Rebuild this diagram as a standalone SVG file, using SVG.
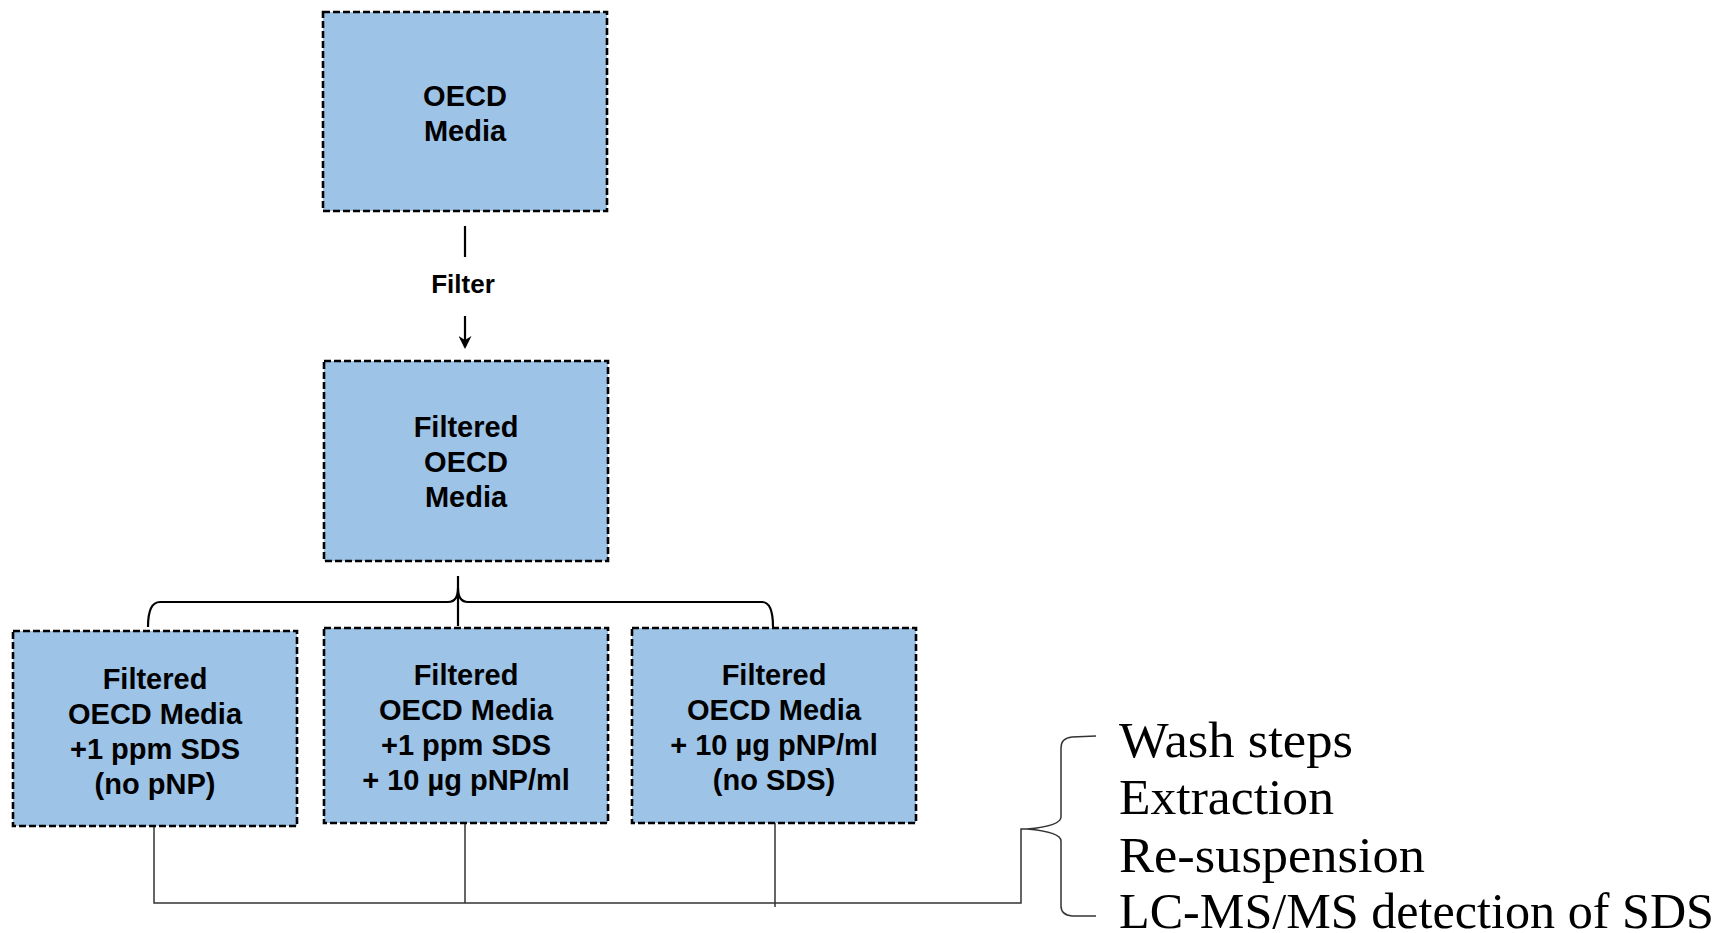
<svg xmlns="http://www.w3.org/2000/svg" width="1721" height="933" viewBox="0 0 1721 933">
<style>
.box{fill:#9DC3E6;stroke:#000;stroke-width:2.6;stroke-dasharray:7 3}
.bt{font-family:"Liberation Sans",Arial,sans-serif;font-weight:bold;font-size:29px;fill:#000;text-anchor:middle}
.lbl{font-family:"Liberation Sans",Arial,sans-serif;font-weight:bold;font-size:26px;fill:#000;text-anchor:middle}
.st{font-family:"Liberation Serif","Times New Roman",serif;font-size:50px;fill:#000}
.ln{fill:none;stroke:#000;stroke-width:2.2}
.thin{fill:none;stroke:#333;stroke-width:1.5}
</style>
<defs>
<marker id="ah" markerWidth="13" markerHeight="13" refX="11" refY="6.5" orient="auto" markerUnits="userSpaceOnUse">
<path d="M0,0 L13,6.5 L0,13 L4,6.5 Z" fill="#000"/>
</marker>
</defs>
<rect width="1721" height="933" fill="#fff"/>
<g id="connectors">
<line class="ln" x1="465" y1="226" x2="465" y2="257"/>
<line class="ln" x1="465" y1="316" x2="465" y2="347" marker-end="url(#ah)"/>
<path class="ln" stroke-width="2.6" d="M148,627 Q148,602 160,602 L448,602 Q458,602 458,588 Q458,602 468,602 L762,602 Q773,602 773,627"/>
<line class="ln" stroke-width="2.6" x1="458" y1="576" x2="458" y2="626"/>
<path class="thin" d="M154,827 L154,903 L1021,903 L1021,829 L1027,829"/>
<line class="thin" x1="465" y1="823" x2="465" y2="903"/>
<line class="thin" x1="775" y1="823" x2="775" y2="907"/>
<path class="thin" d="M1096,736 L1072,737 Q1061,738 1061,748 L1061,817 Q1061,826 1027,829 Q1061,832 1061,841 L1061,906 Q1061,915 1072,916 L1096,916"/>
</g>
<g id="filter-label">
<text class="lbl" x="463" y="293">Filter</text>
</g>
<g id="oecd-media">
<rect class="box" x="323" y="12" width="284" height="199"/>
<text class="bt" x="465" y="106">OECD</text>
<text class="bt" x="465" y="141">Media</text>
</g>
<g id="filtered-oecd-media">
<rect class="box" x="324" y="361" width="284" height="200"/>
<text class="bt" x="466" y="437">Filtered</text>
<text class="bt" x="466" y="472">OECD</text>
<text class="bt" x="466" y="507">Media</text>
</g>
<g id="sds-only">
<rect class="box" x="13" y="631" width="284" height="195"/>
<text class="bt" x="155" y="689">Filtered</text>
<text class="bt" x="155" y="724">OECD Media</text>
<text class="bt" x="155" y="759">+1 ppm SDS</text>
<text class="bt" x="155" y="794">(no pNP)</text>
</g>
<g id="sds-pnp">
<rect class="box" x="324" y="628" width="284" height="195"/>
<text class="bt" x="466" y="685">Filtered</text>
<text class="bt" x="466" y="720">OECD Media</text>
<text class="bt" x="466" y="755">+1 ppm SDS</text>
<text class="bt" x="466" y="790">+ 10 µg pNP/ml</text>
</g>
<g id="pnp-only">
<rect class="box" x="632" y="628" width="284" height="195"/>
<text class="bt" x="774" y="685">Filtered</text>
<text class="bt" x="774" y="720">OECD Media</text>
<text class="bt" x="774" y="755">+ 10 µg pNP/ml</text>
<text class="bt" x="774" y="790">(no SDS)</text>
</g>
<g id="steps">
<text class="st" x="1119" y="757" textLength="234" lengthAdjust="spacingAndGlyphs">Wash steps</text>
<text class="st" x="1119" y="814" textLength="215" lengthAdjust="spacingAndGlyphs">Extraction</text>
<text class="st" x="1119" y="872" textLength="306" lengthAdjust="spacingAndGlyphs">Re-suspension</text>
<text class="st" x="1119" y="928" textLength="595" lengthAdjust="spacingAndGlyphs">LC-MS/MS detection of SDS</text>
</g>
</svg>
